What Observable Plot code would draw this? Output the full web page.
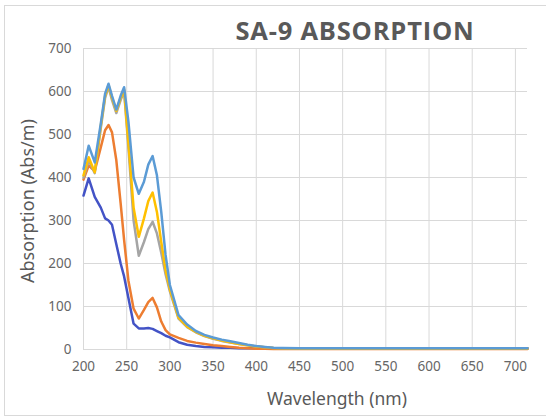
<!DOCTYPE html>
<html>
<head>
<meta charset="utf-8">
<script src="https://cdn.jsdelivr.net/npm/d3@7"></script>
<script src="https://cdn.jsdelivr.net/npm/@observablehq/plot@0.6"></script>
<style>
  html, body { margin: 0; padding: 0; background: #fff; }
  #wrap { position: relative; width: 546px; height: 420px; overflow: hidden; background: #fff; font-family: "Noto Sans", "Open Sans", sans-serif; }
  #frame { position: absolute; left: 4px; top: 5px; width: 600px; height: 411px; border: 1px solid #d9d9d9; box-sizing: border-box; }
  #title { position: absolute; left: 0; width: 710px; top: 13px; text-align: center; font-family: "Open Sans", "Noto Sans", sans-serif; font-weight: 700; font-size: 25.5px; color: #595959; letter-spacing: 0.8px; white-space: nowrap; }
  #xlabel { position: absolute; left: 83px; width: 508px; top: 386px; text-align: center; font-size: 17.5px; color: #595959; white-space: nowrap; }
  #ylabel { position: absolute; left: 27px; top: 201px; transform: translate(-50%, -50%) rotate(-90deg); font-size: 18px; color: #595959; white-space: nowrap; }
  #chart { position: absolute; left: 0; top: 0; }
</style>
</head>
<body>
<div id="wrap">
  <div id="frame"></div>
  <div id="chart"></div>
  <div id="title">SA-9 ABSORPTION</div>
  <div id="xlabel">Wavelength (nm)</div>
  <div id="ylabel">Absorption (Abs/m)</div>
</div>
<script>
// Wavelengths (nm)
const wavelengths = [200,206,213,220,225,229,233,238,243,247,252,258,264,270,275,280,285,290,295,300,310,320,330,340,350,360,370,380,390,400,410,420,430,450,500,550,600,650,700,714];

// Series values (Abs/m)
const seriesDarkBlue = [358,398,355,330,305,300,290,245,200,170,120,60,49,49,50,48,43,38,32,28,17,11,8,6,5,4,4,3,3,3,3,3,3,3,3,3,3,3,3,3];
const seriesOrange   = [395,428,415,470,510,522,505,440,340,255,160,95,72,92,110,120,98,65,45,35,27,20,16,13,10,8,6,4,3,2,1.5,1,1,1,1,1,1,1,1,1];
const seriesGray     = [400,440,410,515,585,610,580,550,580,600,470,300,218,250,280,297,270,225,175,135,72,52,40,31,25,20,16,13,10,7,5,3.5,3,2.5,2.5,2.5,2.5,2.5,2.5,2.5];
const seriesYellow   = [405,447,412,520,590,615,585,555,585,605,480,330,262,305,345,365,320,250,185,140,74,53,41,32,26,21,17,13,10,7,5,3.5,3,2.5,2.5,2.5,2.5,2.5,2.5,2.5];
const seriesLightBlue= [420,474,435,525,595,618,590,558,590,610,530,400,362,390,430,450,405,320,220,150,80,58,43,34,28,23,19,15,11,8,6,4,3.5,3,3,3,3,3,3,3];

const seriesNames  = ["S1","S2","S3","S4","S5"];
const seriesValues = [seriesDarkBlue, seriesOrange, seriesGray, seriesYellow, seriesLightBlue];
const seriesColors = ["#4353c6","#ed7d31","#a5a5a5","#ffc000","#5b9bd5"];

const yTicks = [0,100,200,300,400,500,600,700];
const xTicks = [200,250,300,350,400,450,500,550,600,650,700];

const rows = [];
seriesNames.forEach((name, i) => {
  wavelengths.forEach((w, j) => rows.push({series: name, w, v: seriesValues[i][j]}));
});

const chart = Plot.plot({
  width: 546,
  height: 420,
  marginTop: 48,
  marginLeft: 83,
  marginRight: 19,
  marginBottom: 71,
  style: {fontFamily: "'Noto Sans', sans-serif", fontSize: "13.5px", color: "#666666", background: "transparent"},
  x: {domain: [200, 714]},
  y: {domain: [0, 700]},
  color: {domain: seriesNames, range: seriesColors},
  marks: [
    Plot.gridY(yTicks, {stroke: "#d9d9d9", strokeOpacity: 1, strokeWidth: 1}),
    Plot.gridX(xTicks, {stroke: "#d9d9d9", strokeOpacity: 1, strokeWidth: 1}),
    Plot.axisY(yTicks, {tickSize: 0, tickPadding: 12, label: null, fontSize: 13.5}),
    Plot.axisX(xTicks, {tickSize: 0, tickPadding: 12, label: null, fontSize: 13.5}),
    Plot.line(rows, {x: "w", y: "v", z: "series", stroke: "series", strokeWidth: 2.5, curve: "linear"})
  ]
});
document.getElementById("chart").appendChild(chart);
</script>
</body>
</html>
